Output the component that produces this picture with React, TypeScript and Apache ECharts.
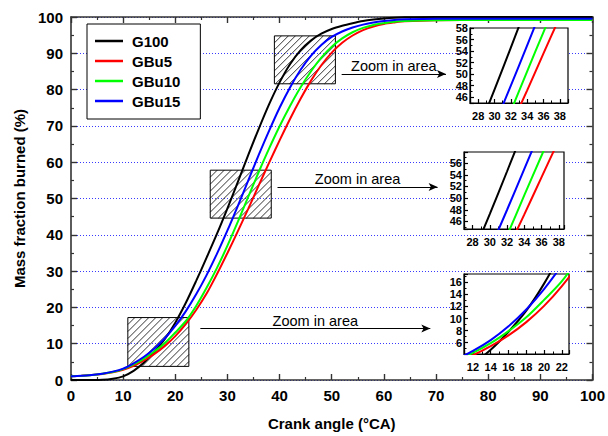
import React, { useEffect, useRef } from 'react';
import * as echarts from 'echarts';

const FONT = "'Liberation Sans', Arial, sans-serif";

// Crank angle samples (°CA)
const crankAngle = [0, 2, 4, 6, 8, 10, 12, 14, 16, 18, 20, 22, 24, 26, 28, 30, 32, 34, 36, 38, 40, 42, 44, 46, 48, 50, 52, 54, 56, 58, 60, 62, 64, 70, 80, 90, 100];

// Mass fraction burned (%)
const g100 = [0, 0, 0, 0.05, 0.35, 1.0, 2.5, 4.8, 7.8, 11.3, 15.8, 21.2, 27.3, 33.7, 40.3, 47.3, 54.6, 62.0, 69.2, 76.0, 82.0, 87.0, 90.8, 93.5, 95.4, 96.7, 97.6, 98.3, 98.9, 99.3, 99.6, 99.8, 99.9, 100, 100, 100, 100];
const gbu5 = [1.0, 1.15, 1.35, 1.65, 2.1, 2.8, 3.9, 5.4, 7.2, 9.4, 12.1, 15.4, 19.3, 23.8, 29.2, 35.0, 41.0, 47.2, 53.6, 59.9, 66.0, 71.9, 77.4, 82.4, 86.7, 90.2, 92.9, 94.9, 96.4, 97.4, 98.1, 98.5, 98.8, 99.1, 99.2, 99.2, 99.2];
const gbu10 = [1.0, 1.15, 1.35, 1.7, 2.2, 3.0, 4.3, 5.9, 7.9, 10.2, 13.1, 16.2, 20.4, 25.4, 30.9, 37.0, 43.6, 50.5, 57.3, 63.8, 69.9, 75.5, 80.6, 85.0, 88.8, 91.8, 94.1, 95.8, 97.0, 97.8, 98.3, 98.7, 98.9, 99.1, 99.2, 99.2, 99.2];
const gbu15 = [1.0, 1.15, 1.4, 1.75, 2.3, 3.15, 4.6, 6.4, 8.7, 11.5, 14.9, 18.9, 23.6, 28.9, 34.8, 41.2, 48.0, 55.0, 62.0, 68.7, 75.0, 80.6, 85.4, 89.3, 92.3, 94.5, 96.0, 97.1, 97.9, 98.5, 98.9, 99.2, 99.35, 99.5, 99.5, 99.5, 99.5];

const seriesNames = ['G100', 'GBu5', 'GBu10', 'GBu15'];
const seriesValues = [g100, gbu5, gbu10, gbu15];
const seriesColors = ['#000000', '#ff0000', '#00ff00', '#0000ff'];

// Hatched zoom boxes: [xMin, yMin, xMax, yMax] in data units
const zoomBoxes = [
  [39, 81.6, 50.7, 94.8],
  [26.7, 44.6, 38.4, 57.8],
  [10.9, 3.75, 22.6, 17.2],
];
// Arrows: [xStart, xEnd, y]
const arrows = [
  [51.9, 71.9, 84.3],
  [39.6, 70.3, 53.2],
  [24.8, 68.9, 14.2],
];
const arrowLabel = 'Zoom in area';

// Inset axis ranges
const insetX = [[27, 39], [27, 38.6], [11, 22.8]];
const insetY = [[45, 58], [44.7, 57.9], [4.1, 17.4]];
const insetGrids = [
  { left: 470, top: 28, width: 98, height: 75 },
  { left: 464, top: 152, width: 100, height: 77 },
  { left: 464, top: 274, width: 105, height: 80 },
];

const pairs = (vals: number[]) => crankAngle.map((x, i) => [x, vals[i]]);

const evenLabel = (v: number) => {
  const r = Math.round(v);
  return Math.abs(v - r) < 1e-6 && r % 2 === 0 ? String(r) : '';
};

function insetAxis(gridIndex: number, range: number[], isY: boolean) {
  return {
    gridIndex,
    type: 'value',
    min: range[0],
    max: range[1],
    splitNumber: 6,
    z: 4,
    axisLine: { show: true, onZero: false, lineStyle: { color: '#000', width: 1.2 } },
    axisTick: { show: true, inside: true, length: 4, lineStyle: { color: '#000', width: 1.2 } },
    minorTick: { show: true, splitNumber: 2, length: 2.5, lineStyle: { color: '#000', width: 1 } },
    splitLine: { show: false },
    axisLabel: {
      show: true,
      interval: 0,
      margin: isY ? 2 : 7,
      fontSize: 11,
      fontWeight: 'bold',
      color: '#000',
      fontFamily: FONT,
      formatter: evenLabel,
    },
  };
}

const mainAxisLine = { show: true, onZero: false, lineStyle: { color: '#333', width: 1.6 } };
const mainTick = { show: true, inside: true, length: 6, lineStyle: { color: '#333', width: 1.4 } };
const mainMinor = { show: true, splitNumber: 2, length: 3, lineStyle: { color: '#333', width: 1.2 } };
const mainLabel = { fontSize: 15, fontWeight: 'bold', color: '#000', fontFamily: FONT, margin: 8 };
const nameStyle = { fontSize: 15, fontWeight: 'bold', color: '#000', fontFamily: FONT };

function buildOption() {
  const series: any[] = [];
  // hatched boxes
  series.push({
    type: 'custom',
    xAxisIndex: 0,
    yAxisIndex: 0,
    z: 1,
    silent: true,
    data: zoomBoxes,
    renderItem: (params: any, api: any) => {
      const p0 = api.coord([api.value(0), api.value(3)]);
      const p1 = api.coord([api.value(2), api.value(1)]);
      const x0 = p0[0], y0 = p0[1], x1 = p1[0], y1 = p1[1];
      const children: any[] = [];
      const step = 7;
      for (let c = x0 + y0 + step; c < x1 + y1; c += step) {
        const xa = Math.max(x0, c - y1);
        const xb = Math.min(x1, c - y0);
        if (xb > xa) {
          children.push({
            type: 'line',
            shape: { x1: xa, y1: c - xa, x2: xb, y2: c - xb },
            style: { stroke: '#000', lineWidth: 0.8 },
          });
        }
      }
      children.push({
        type: 'rect',
        shape: { x: x0, y: y0, width: x1 - x0, height: y1 - y0 },
        style: { fill: 'none', stroke: '#000', lineWidth: 1 },
      });
      return { type: 'group', children };
    },
  });
  // arrows with labels
  series.push({
    type: 'line',
    name: 'arrows',
    xAxisIndex: 0,
    yAxisIndex: 0,
    data: [],
    z: 3,
    markLine: {
      silent: true,
      animation: false,
      symbol: ['none', 'arrow'],
      symbolSize: [6, 9],
      lineStyle: { color: '#000', width: 1, type: 'solid' },
      label: {
        show: true,
        position: 'middle',
        formatter: arrowLabel,
        color: '#000',
        fontSize: 14.5,
        fontWeight: 'normal',
        fontFamily: FONT,
        distance: 0,
      },
      data: arrows.map(([xa, xb, y]) => [{ coord: [xa, y] }, { coord: [xb, y] }]),
    },
  });
  // main curves
  seriesNames.forEach((name, i) => {
    series.push({
      type: 'line',
      name,
      xAxisIndex: 0,
      yAxisIndex: 0,
      data: pairs(seriesValues[i]),
      showSymbol: false,
      symbol: 'none',
      smooth: 0.3,
      z: 2,
      color: seriesColors[i],
      lineStyle: { color: seriesColors[i], width: 2 },
    });
  });
  // insets
  for (let k = 0; k < 3; k++) {
    seriesNames.forEach((name, i) => {
      series.push({
        type: 'line',
        name,
        xAxisIndex: 2 + k,
        yAxisIndex: 2 + k,
        data: pairs(seriesValues[i]),
        showSymbol: false,
        symbol: 'none',
        smooth: 0.3,
        clip: true,
        z: 5,
        color: seriesColors[i],
        lineStyle: { color: seriesColors[i], width: 2 },
      });
    });
  }

  return {
    animation: false,
    backgroundColor: '#fff',
    textStyle: { fontFamily: FONT },
    grid: [
      { left: 71, right: 11, top: 17, bottom: 54, show: false },
      ...insetGrids.map((g) => ({
        ...g,
        show: true,
        z: 3,
        backgroundColor: '#fff',
        borderColor: '#000',
        borderWidth: 1.2,
      })),
    ],
    legend: {
      data: seriesNames,
      orient: 'vertical',
      left: 87,
      top: 24,
      padding: [7, 20, 8, 8],
      itemGap: 0,
      itemWidth: 28,
      itemHeight: 2.5,
      icon: 'rect',
      borderColor: '#000',
      borderWidth: 1,
      backgroundColor: '#fff',
      textStyle: { fontSize: 15, fontWeight: 'bold', color: '#000', fontFamily: FONT, lineHeight: 20, padding: [0, 0, 0, 4] },
    },
    xAxis: [
      {
        gridIndex: 0,
        type: 'value',
        min: 0,
        max: 100,
        interval: 10,
        axisLine: mainAxisLine,
        axisTick: mainTick,
        minorTick: mainMinor,
        splitLine: { show: false },
        axisLabel: mainLabel,
        name: 'Crank angle (°CA)',
        nameLocation: 'middle',
        nameGap: 36,
        nameTextStyle: nameStyle,
      },
      {
        gridIndex: 0,
        type: 'value',
        position: 'top',
        min: 0,
        max: 100,
        interval: 10,
        axisLine: mainAxisLine,
        axisTick: mainTick,
        minorTick: mainMinor,
        splitLine: { show: false },
        axisLabel: { show: false },
      },
      ...insetX.map((r, k) => insetAxis(1 + k, r, false)),
    ],
    yAxis: [
      {
        gridIndex: 0,
        type: 'value',
        min: 0,
        max: 100,
        interval: 10,
        axisLine: mainAxisLine,
        axisTick: mainTick,
        minorTick: mainMinor,
        splitLine: { show: true, lineStyle: { color: '#3a3aff', width: 1, type: [1, 2] } },
        axisLabel: mainLabel,
        name: 'Mass fraction burned (%)',
        nameLocation: 'middle',
        nameGap: 41,
        nameTextStyle: nameStyle,
      },
      {
        gridIndex: 0,
        type: 'value',
        position: 'right',
        min: 0,
        max: 100,
        interval: 10,
        axisLine: mainAxisLine,
        axisTick: mainTick,
        minorTick: mainMinor,
        splitLine: { show: false },
        axisLabel: { show: false },
      },
      ...insetY.map((r, k) => insetAxis(1 + k, r, true)),
    ],
    series,
  };
}

export default function App() {
  const ref = useRef<HTMLDivElement>(null);
  useEffect(() => {
    if (!ref.current) return;
    const chart = echarts.init(ref.current, null, { renderer: 'svg' });
    chart.setOption(buildOption() as any);
    return () => chart.dispose();
  }, []);
  return <div ref={ref} style={{ position: 'fixed', left: 0, top: 0, width: 608, height: 436 }} />;
}
